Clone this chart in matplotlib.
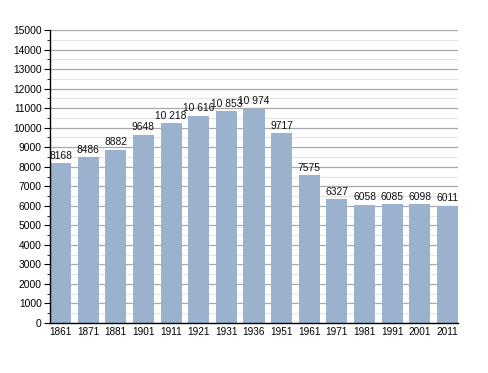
import matplotlib
matplotlib.use('Agg')
from matplotlib import pyplot as plt
from matplotlib.ticker import MultipleLocator
import numpy as np

years = ['1861', '1871', '1881', '1901', '1911', '1921', '1931', '1936',
         '1951', '1961', '1971', '1981', '1991', '2001', '2011']
population = [8168, 8486, 8882, 9648, 10218, 10616, 10853, 10974,
              9717, 7575, 6327, 6058, 6085, 6098, 6011]

plt.rcParams['font.family'] = ['Liberation Sans', 'DejaVu Sans']


def fmt(v):
    # thousands separated by a space, as on the original chart, only above 9999
    return f'{v:,}'.replace(',', ' ') if v >= 10000 else str(v)


fig = plt.figure(figsize=(4.88, 3.73), dpi=100)
ax = fig.add_axes([50 / 488, 1 - 323 / 373, 408 / 488, 293 / 373])

x = np.arange(len(years))
width = 0.76
ax.bar(x, population, width=width, color='#9AB2CD', zorder=2)

for xi, v in zip(x, population):
    ax.text(xi, v + 120, fmt(v), ha='center', va='bottom', fontsize=7.4,
            color='#111111', zorder=3)

ax.set_xlim(-width / 2, len(years) - 1 + width / 2)
ax.set_ylim(0, 15000)
ax.set_xticks(x)
ax.set_xticklabels(years)
ax.yaxis.set_major_locator(MultipleLocator(1000))
ax.yaxis.set_minor_locator(MultipleLocator(500))

ax.grid(which='major', axis='y', color='#A8A8A8', linewidth=0.9, zorder=0)
ax.grid(which='minor', axis='y', color='#E4E4E4', linewidth=0.8, zorder=0)

for side in ['top', 'right']:
    ax.spines[side].set_visible(False)
ax.spines['left'].set_linewidth(1.0)
ax.spines['bottom'].set_linewidth(1.0)

ax.tick_params(axis='x', length=0, labelsize=7.2, pad=3)
ax.tick_params(axis='y', which='major', length=4, labelsize=7.4, pad=2)
ax.tick_params(axis='y', which='minor', length=2)

plt.savefig('out.png', dpi=100)
plt.close('all')
